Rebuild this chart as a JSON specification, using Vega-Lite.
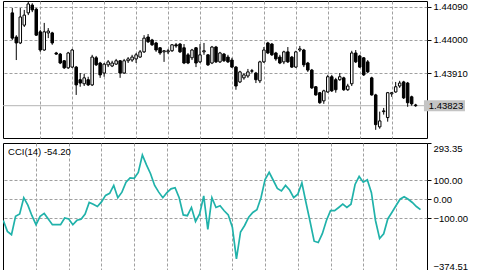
{
  "$schema": "https://vega.github.io/schema/vega-lite/v6.json",
  "padding": {"left": 2, "top": 0, "right": 0, "bottom": 0},
  "background": "white",
  "spacing": 3,
  "config": {
    "view": {"stroke": "black", "strokeWidth": 1},
    "axis": {"labelFont": "Liberation Sans", "labelFontSize": 9.5, "labelColor": "black", "tickColor": "black", "tickWidth": 1, "gridColor": "#a0a0a0", "gridDash": [3, 2], "gridWidth": 1, "labelOverlap": false},
    "text": {"font": "Liberation Sans", "fontSize": 9.5, "color": "black"}
  },
  "datasets": {
    "bars": [
      {"i":-1,"v":-111},
      {"i":0,"o":1.44073,"h":1.44086,"l":1.44000,"c":1.44005,"v":-168},
      {"i":1,"o":1.44008,"h":1.44013,"l":1.43946,"c":1.43992,"v":-185},
      {"i":2,"o":1.43992,"h":1.44086,"l":1.43989,"c":1.44062,"v":-89},
      {"i":3,"o":1.44040,"h":1.44081,"l":1.44035,"c":1.44067,"v":-77},
      {"i":4,"o":1.44073,"h":1.44105,"l":1.44067,"c":1.44097,"v":8},
      {"i":5,"o":1.44094,"h":1.44099,"l":1.44075,"c":1.44081,"v":-31},
      {"i":6,"o":1.44083,"h":1.44086,"l":1.44011,"c":1.44013,"v":-86},
      {"i":7,"o":1.44022,"h":1.44027,"l":1.43968,"c":1.43973,"v":-133},
      {"i":8,"o":1.43973,"h":1.44046,"l":1.43971,"c":1.44022,"v":-89},
      {"i":9,"o":1.44019,"h":1.44032,"l":1.44005,"c":1.44024,"v":-74},
      {"i":10,"o":1.44019,"h":1.44022,"l":1.43987,"c":1.43992,"v":-103},
      {"i":11,"o":1.43965,"h":1.43968,"l":1.43960,"c":1.43962,"v":-133},
      {"i":12,"o":1.43962,"h":1.43965,"l":1.43935,"c":1.43938,"v":-133},
      {"i":13,"o":1.43944,"h":1.43946,"l":1.43922,"c":1.43925,"v":-133},
      {"i":14,"o":1.43925,"h":1.43968,"l":1.43922,"c":1.43965,"v":-98},
      {"i":15,"o":1.43927,"h":1.43976,"l":1.43925,"c":1.43973,"v":-103},
      {"i":16,"o":1.43927,"h":1.43930,"l":1.43852,"c":1.43879,"v":-133},
      {"i":17,"o":1.43893,"h":1.43911,"l":1.43874,"c":1.43884,"v":-110},
      {"i":18,"o":1.43882,"h":1.43909,"l":1.43876,"c":1.43898,"v":-104},
      {"i":19,"o":1.43893,"h":1.43901,"l":1.43876,"c":1.43879,"v":-77},
      {"i":20,"o":1.43879,"h":1.43960,"l":1.43876,"c":1.43954,"v":-17},
      {"i":21,"o":1.43952,"h":1.43957,"l":1.43930,"c":1.43933,"v":-26},
      {"i":22,"o":1.43938,"h":1.43941,"l":1.43898,"c":1.43906,"v":-38},
      {"i":23,"o":1.43911,"h":1.43938,"l":1.43901,"c":1.43935,"v":-14},
      {"i":24,"o":1.43933,"h":1.43946,"l":1.43927,"c":1.43941,"v":20},
      {"i":25,"o":1.43930,"h":1.43944,"l":1.43927,"c":1.43938,"v":31},
      {"i":26,"o":1.43935,"h":1.43949,"l":1.43933,"c":1.43944,"v":72},
      {"i":27,"o":1.43944,"h":1.43946,"l":1.43898,"c":1.43911,"v":8},
      {"i":28,"o":1.43911,"h":1.43949,"l":1.43909,"c":1.43944,"v":37},
      {"i":29,"o":1.43944,"h":1.43954,"l":1.43938,"c":1.43949,"v":89},
      {"i":30,"o":1.43946,"h":1.43960,"l":1.43941,"c":1.43954,"v":111},
      {"i":31,"o":1.43949,"h":1.43965,"l":1.43938,"c":1.43960,"v":109},
      {"i":32,"o":1.43954,"h":1.43973,"l":1.43952,"c":1.43968,"v":140},
      {"i":33,"o":1.43968,"h":1.44013,"l":1.43965,"c":1.44005,"v":231},
      {"i":34,"o":1.44008,"h":1.44016,"l":1.43992,"c":1.43995,"v":179},
      {"i":35,"o":1.44000,"h":1.44003,"l":1.43984,"c":1.43987,"v":133},
      {"i":36,"o":1.43992,"h":1.43995,"l":1.43968,"c":1.43973,"v":72},
      {"i":37,"o":1.43979,"h":1.43981,"l":1.43960,"c":1.43965,"v":37},
      {"i":38,"o":1.43968,"h":1.43973,"l":1.43941,"c":1.43971,"v":8},
      {"i":39,"o":1.43968,"h":1.43976,"l":1.43962,"c":1.43971,"v":34},
      {"i":40,"o":1.43971,"h":1.43989,"l":1.43968,"c":1.43987,"v":54},
      {"i":41,"o":1.43987,"h":1.43992,"l":1.43979,"c":1.43984,"v":60},
      {"i":42,"o":1.43989,"h":1.43992,"l":1.43965,"c":1.43968,"v":8},
      {"i":43,"o":1.43979,"h":1.43989,"l":1.43935,"c":1.43938,"v":-82},
      {"i":44,"o":1.43960,"h":1.43965,"l":1.43935,"c":1.43938,"v":-86},
      {"i":45,"o":1.43952,"h":1.43976,"l":1.43946,"c":1.43973,"v":-43},
      {"i":46,"o":1.43979,"h":1.43981,"l":1.43927,"c":1.43938,"v":-116},
      {"i":47,"o":1.43941,"h":1.43989,"l":1.43938,"c":1.43960,"v":-77},
      {"i":48,"o":1.43968,"h":1.43992,"l":1.43960,"c":1.43971,"v":17},
      {"i":49,"o":1.43960,"h":1.43962,"l":1.43930,"c":1.43933,"v":-157},
      {"i":50,"o":1.43938,"h":1.43984,"l":1.43935,"c":1.43981,"v":8},
      {"i":51,"o":1.43981,"h":1.43984,"l":1.43938,"c":1.43941,"v":-43},
      {"i":52,"o":1.43941,"h":1.43968,"l":1.43938,"c":1.43965,"v":-34},
      {"i":53,"o":1.43962,"h":1.43965,"l":1.43941,"c":1.43944,"v":-60},
      {"i":54,"o":1.43954,"h":1.43960,"l":1.43938,"c":1.43941,"v":-82},
      {"i":55,"o":1.43946,"h":1.43952,"l":1.43925,"c":1.43927,"v":-146},
      {"i":56,"o":1.43927,"h":1.43930,"l":1.43866,"c":1.43876,"v":-311},
      {"i":57,"o":1.43887,"h":1.43917,"l":1.43884,"c":1.43914,"v":-171},
      {"i":58,"o":1.43898,"h":1.43911,"l":1.43893,"c":1.43906,"v":-137},
      {"i":59,"o":1.43903,"h":1.43922,"l":1.43898,"c":1.43914,"v":-94},
      {"i":60,"o":1.43917,"h":1.43922,"l":1.43911,"c":1.43916,"v":-69},
      {"i":61,"o":1.43911,"h":1.43914,"l":1.43884,"c":1.43893,"v":-55},
      {"i":62,"o":1.43890,"h":1.43944,"l":1.43884,"c":1.43941,"v":8},
      {"i":63,"o":1.43941,"h":1.43981,"l":1.43938,"c":1.43973,"v":103},
      {"i":64,"o":1.43992,"h":1.43995,"l":1.43962,"c":1.43965,"v":140},
      {"i":65,"o":1.43989,"h":1.43992,"l":1.43957,"c":1.43960,"v":99},
      {"i":66,"o":1.43965,"h":1.43968,"l":1.43944,"c":1.43949,"v":56},
      {"i":67,"o":1.43954,"h":1.43960,"l":1.43935,"c":1.43938,"v":43},
      {"i":68,"o":1.43941,"h":1.43971,"l":1.43935,"c":1.43968,"v":72},
      {"i":69,"o":1.43968,"h":1.43981,"l":1.43938,"c":1.43941,"v":48},
      {"i":70,"o":1.43954,"h":1.43957,"l":1.43925,"c":1.43927,"v":8},
      {"i":71,"o":1.43927,"h":1.43971,"l":1.43925,"c":1.43968,"v":26},
      {"i":72,"o":1.43973,"h":1.43984,"l":1.43968,"c":1.43976,"v":85},
      {"i":73,"o":1.43973,"h":1.43976,"l":1.43927,"c":1.43933,"v":-17},
      {"i":74,"o":1.43938,"h":1.43941,"l":1.43914,"c":1.43919,"v":-116},
      {"i":75,"o":1.43919,"h":1.43922,"l":1.43868,"c":1.43871,"v":-219},
      {"i":76,"o":1.43874,"h":1.43876,"l":1.43850,"c":1.43852,"v":-226},
      {"i":77,"o":1.43858,"h":1.43860,"l":1.43828,"c":1.43831,"v":-180},
      {"i":78,"o":1.43836,"h":1.43866,"l":1.43828,"c":1.43863,"v":-111},
      {"i":79,"o":1.43860,"h":1.43906,"l":1.43858,"c":1.43901,"v":-60},
      {"i":80,"o":1.43901,"h":1.43906,"l":1.43860,"c":1.43863,"v":-60},
      {"i":81,"o":1.43893,"h":1.43898,"l":1.43858,"c":1.43866,"v":-43},
      {"i":82,"o":1.43893,"h":1.43911,"l":1.43890,"c":1.43901,"v":-26},
      {"i":83,"o":1.43898,"h":1.43901,"l":1.43863,"c":1.43866,"v":-43},
      {"i":84,"o":1.43866,"h":1.43882,"l":1.43863,"c":1.43876,"v":-26},
      {"i":85,"o":1.43882,"h":1.43971,"l":1.43876,"c":1.43965,"v":77},
      {"i":86,"o":1.43965,"h":1.43973,"l":1.43938,"c":1.43941,"v":119},
      {"i":87,"o":1.43957,"h":1.43960,"l":1.43925,"c":1.43927,"v":89},
      {"i":88,"o":1.43952,"h":1.43954,"l":1.43903,"c":1.43906,"v":102},
      {"i":89,"o":1.43941,"h":1.43946,"l":1.43911,"c":1.43914,"v":34},
      {"i":90,"o":1.43898,"h":1.43901,"l":1.43850,"c":1.43852,"v":-111},
      {"i":91,"o":1.43852,"h":1.43855,"l":1.43758,"c":1.43772,"v":-205},
      {"i":92,"o":1.43766,"h":1.43807,"l":1.43761,"c":1.43782,"v":-180},
      {"i":93,"o":1.43807,"h":1.43817,"l":1.43799,"c":1.43809,"v":-103},
      {"i":94,"o":1.43791,"h":1.43860,"l":1.43780,"c":1.43858,"v":-69},
      {"i":95,"o":1.43855,"h":1.43860,"l":1.43847,"c":1.43858,"v":-34},
      {"i":96,"o":1.43860,"h":1.43887,"l":1.43858,"c":1.43874,"v":0},
      {"i":97,"o":1.43876,"h":1.43890,"l":1.43871,"c":1.43884,"v":13},
      {"i":98,"o":1.43887,"h":1.43890,"l":1.43841,"c":1.43844,"v":0},
      {"i":99,"o":1.43884,"h":1.43887,"l":1.43820,"c":1.43831,"v":-17},
      {"i":100,"o":1.43847,"h":1.43850,"l":1.43823,"c":1.43828,"v":-38},
      {"i":101,"o":1.43825,"h":1.43828,"l":1.43820,"c":1.43823,"v":-54.2}
    ]
  },
  "vconcat": [
    {
      "width": 424,
      "height": 137,
      "layer": [
        {
          "data": {"values": [{"p": 1.43823}]},
          "mark": {"type": "rule", "color": "#b4b4b4", "strokeWidth": 1, "clip": true},
          "encoding": {
            "y": {"field": "p", "type": "quantitative", "title": null,
                  "scale": {"domain": [1.43736, 1.44105], "nice": false, "zero": false},
                  "axis": {"orient": "right", "values": [1.4409, 1.44, 1.4391], "tickCount": 10, "format": ".5f", "grid": true, "domain": false, "tickSize": 4, "labelPadding": 2, "labelOverlap": false, "title": null}}
          }
        },
        {
          "data": {"name": "bars"},
          "transform": [{"filter": "isValid(datum.o)"}],
          "mark": {"type": "rule", "color": "black", "strokeWidth": 1, "clip": true},
          "encoding": {
            "x": {"field": "i", "type": "quantitative", "title": null,
                  "scale": {"domain": [-1.076, 102.59], "nice": false, "zero": false},
                  "axis": {"values": [7, 15, 23, 31, 39, 47, 55, 63, 71, 79, 87, 95], "tickCount": 20, "grid": true, "labels": false, "ticks": false, "domain": false, "title": null, "minExtent": 0, "maxExtent": 0}},
            "y": {"field": "l", "type": "quantitative", "title": null},
            "y2": {"field": "h"}
          }
        },
        {
          "data": {"name": "bars"},
          "transform": [{"filter": "isValid(datum.o)"}],
          "mark": {"type": "bar", "size": 2.5, "stroke": "black", "strokeWidth": 1, "clip": true},
          "encoding": {
            "x": {"field": "i", "type": "quantitative", "title": null},
            "y": {"field": "o", "type": "quantitative", "title": null},
            "y2": {"field": "c"},
            "fill": {"condition": {"test": "datum.c < datum.o", "value": "black"}, "value": "white"}
          }
        },
        {
          "data": {"values": [{"p": 1.43823}]},
          "mark": {"type": "rect", "color": "#c4c4c4"},
          "encoding": {
            "x": {"datum": 103.08, "type": "quantitative"},
            "x2": {"datum": 113.35},
            "y": {"datum": 1.43838, "type": "quantitative"},
            "y2": {"datum": 1.43808}
          }
        },
        {
          "data": {"values": [{"p": 1.43823}]},
          "mark": {"type": "text", "align": "left", "baseline": "middle"},
          "encoding": {
            "x": {"datum": 104.3, "type": "quantitative"},
            "y": {"field": "p", "type": "quantitative", "title": null},
            "text": {"field": "p", "type": "quantitative", "format": ".5f"}
          }
        }
      ]
    },
    {
      "width": 424,
      "height": 128,
      "layer": [
        {
          "data": {"name": "bars"},
          "mark": {"type": "line", "color": "#20b2aa", "strokeWidth": 1.7, "clip": true},
          "encoding": {
            "x": {"field": "i", "type": "quantitative", "title": null,
                  "scale": {"domain": [-1.076, 102.59], "nice": false, "zero": false},
                  "axis": {"values": [7, 15, 23, 31, 39, 47, 55, 63, 71, 79, 87, 95], "tickCount": 20, "grid": true, "labels": false, "ticks": false, "domain": false, "title": null, "minExtent": 0, "maxExtent": 0}},
            "y": {"field": "v", "type": "quantitative", "title": null,
                  "scale": {"domain": [-374.51, 293.35], "nice": false, "zero": false},
                  "axis": {"orient": "right", "values": [293.35, 100, 0, -100, -374.51], "tickCount": 10, "format": ".2f", "grid": true, "labelOverlap": false,
                           "labelBaseline": {"condition": [{"test": "datum.value > 200", "value": "top"}, {"test": "datum.value < -300", "value": "bottom"}], "value": "middle"},
                           "gridOpacity": {"condition": {"test": "abs(datum.value) > 200", "value": 0}, "value": 1},
                           "domain": false, "tickSize": 4, "labelPadding": 2, "title": null}}
          }
        },
        {
          "data": {"values": [{}]},
          "mark": {"type": "text", "text": "CCI(14) -54.20", "align": "left", "baseline": "top", "dy": 4, "clip": true},
          "encoding": {
            "x": {"datum": 0.15, "type": "quantitative"},
            "y": {"datum": 293.35, "type": "quantitative"}
          }
        }
      ]
    }
  ]
}
